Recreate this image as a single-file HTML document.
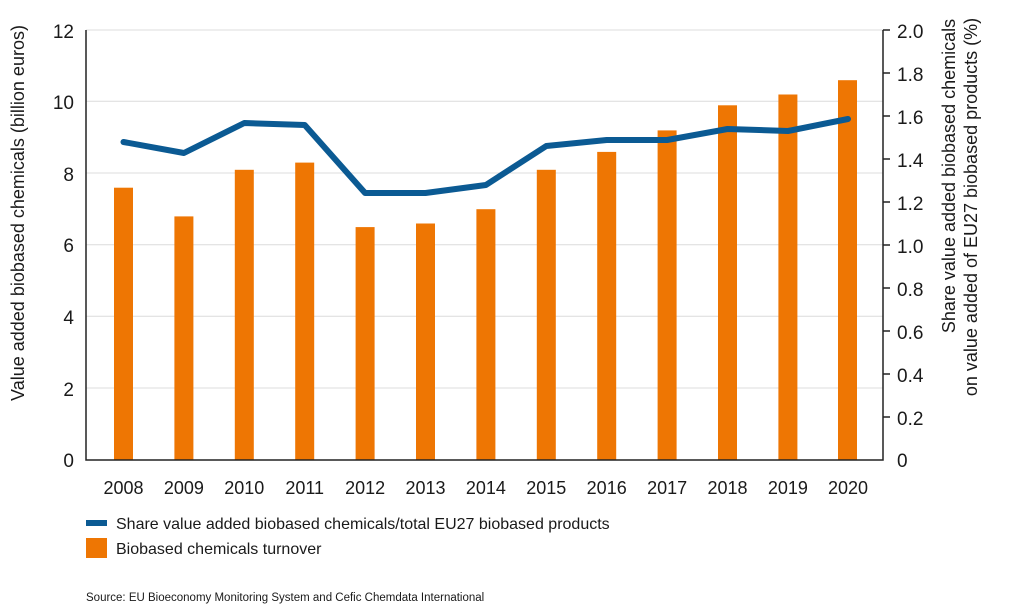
<!DOCTYPE html>
<html><head><style>body{margin:0;background:#fff}svg{display:block}text{font-family:"Liberation Sans",sans-serif;fill:#1a1a1a}</style></head><body>
<svg width="1024" height="614" viewBox="0 0 1024 614">
<g stroke="#dcdcdc" stroke-width="1">
<line x1="86" x2="883" y1="30" y2="30"/><line x1="86" x2="883" y1="101.3" y2="101.3"/><line x1="86" x2="883" y1="173" y2="173"/><line x1="86" x2="883" y1="244.7" y2="244.7"/><line x1="86" x2="883" y1="316.3" y2="316.3"/><line x1="86" x2="883" y1="388" y2="388"/>
</g>
<g fill="#ee7603">
<rect x="114" y="187.7" width="19" height="272.3"/>
<rect x="174.4" y="216.4" width="19" height="243.6"/>
<rect x="234.8" y="169.8" width="19" height="290.2"/>
<rect x="295.2" y="162.6" width="19" height="297.4"/>
<rect x="355.6" y="227.1" width="19" height="232.9"/>
<rect x="416" y="223.5" width="19" height="236.5"/>
<rect x="476.4" y="209.2" width="19" height="250.8"/>
<rect x="536.8" y="169.8" width="19" height="290.2"/>
<rect x="597.2" y="151.9" width="19" height="308.1"/>
<rect x="657.6" y="130.4" width="19" height="329.6"/>
<rect x="718" y="105.3" width="19" height="354.7"/>
<rect x="778.4" y="94.5" width="19" height="365.5"/>
<rect x="838" y="80.2" width="19" height="379.8"/>
</g>
<polyline fill="none" stroke="#0b5a93" stroke-width="6" stroke-linecap="round" stroke-linejoin="round" points="123.5,142 183.9,153 244.3,123 304.7,125 365.1,193 425.5,193 485.9,185 546.3,146 606.7,140 667.1,140 727.5,129 787.9,131 848,119"/>
<g stroke="#222" stroke-width="1.5" fill="none">
<polyline points="86,30 86,460 883,460 883,30"/>
<line x1="883" x2="890" y1="30" y2="30"/><line x1="883" x2="890" y1="73" y2="73"/><line x1="883" x2="890" y1="116" y2="116"/><line x1="883" x2="890" y1="159" y2="159"/><line x1="883" x2="890" y1="202" y2="202"/><line x1="883" x2="890" y1="245" y2="245"/><line x1="883" x2="890" y1="288" y2="288"/><line x1="883" x2="890" y1="331" y2="331"/><line x1="883" x2="890" y1="374" y2="374"/><line x1="883" x2="890" y1="417" y2="417"/>
</g>
<g font-size="19" text-anchor="end">
<text x="74" y="38">12</text><text x="74" y="109">10</text><text x="74" y="181">8</text><text x="74" y="252">6</text><text x="74" y="324">4</text><text x="74" y="396">2</text><text x="74" y="467">0</text>
</g>
<g font-size="19">
<text x="897" y="38">2.0</text><text x="897" y="81">1.8</text><text x="897" y="124">1.6</text><text x="897" y="167">1.4</text><text x="897" y="210">1.2</text><text x="897" y="253">1.0</text><text x="897" y="296">0.8</text><text x="897" y="339">0.6</text><text x="897" y="382">0.4</text><text x="897" y="425">0.2</text><text x="897" y="467">0</text>
</g>
<g font-size="18" text-anchor="middle">
<text x="123.5" y="494">2008</text><text x="183.9" y="494">2009</text><text x="244.3" y="494">2010</text><text x="304.7" y="494">2011</text><text x="365.1" y="494">2012</text><text x="425.5" y="494">2013</text><text x="485.9" y="494">2014</text><text x="546.3" y="494">2015</text><text x="606.7" y="494">2016</text><text x="667.1" y="494">2017</text><text x="727.5" y="494">2018</text><text x="787.9" y="494">2019</text><text x="848" y="494">2020</text>
</g>
<text font-size="18" text-anchor="middle" transform="translate(24,213) rotate(-90)">Value added biobased chemicals (billion euros)</text>
<text font-size="18" text-anchor="middle" transform="translate(955,176) rotate(-90)">Share value added biobased chemicals</text>
<text font-size="18" text-anchor="middle" transform="translate(977,207) rotate(-90)">on value added of EU27 biobased products (%)</text>
<line x1="86" x2="107" y1="523" y2="523" stroke="#0b5a93" stroke-width="6"/>
<text x="116" y="529" font-size="16">Share value added biobased chemicals/total EU27 biobased products</text>
<rect x="86" y="538" width="21" height="20" fill="#ee7603"/>
<text x="116" y="554" font-size="16">Biobased chemicals turnover</text>
<text x="86" y="601" font-size="11.5">Source: EU Bioeconomy Monitoring System and Cefic Chemdata International</text>
</svg>
</body></html>
